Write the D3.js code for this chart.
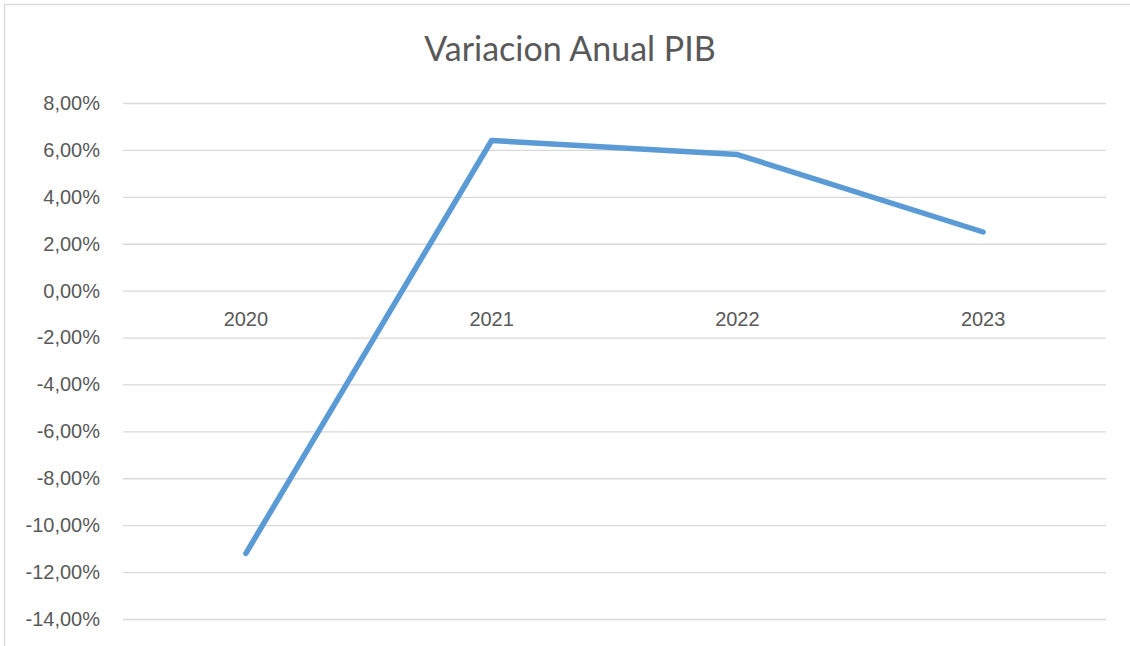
<!DOCTYPE html>
<html>
<head>
<meta charset="utf-8">
<script src="https://cdn.jsdelivr.net/npm/d3@7"></script>
<style>
  body { margin: 0; background: #fff; }
  svg { display: block; font-family: Lato, "Open Sans", sans-serif; }
</style>
</head>
<body>
<svg id="chart"></svg>
<script>
// Data
const years = ['2020', '2021', '2022', '2023'];
const pib = [-11.2, 6.4, 5.8, 2.5];
const yTicks = [8, 6, 4, 2, 0, -2, -4, -6, -8, -10, -12, -14];

const width = 1130, height = 646;
const margin = { top: 103, right: 24, bottom: 27, left: 123 };

const svg = d3.select('#chart')
    .attr('width', width)
    .attr('height', height);

// chart border
svg.append('rect')
    .attr('x', 4.5).attr('y', 4.5)
    .attr('width', width).attr('height', height)
    .attr('fill', 'none')
    .attr('stroke', '#d9d9d9')
    .attr('stroke-width', 1.3);

const x = d3.scaleBand()
    .domain(years)
    .range([margin.left, width - margin.right]);

const y = d3.scaleLinear()
    .domain([-14, 8])
    .range([height - margin.bottom, margin.top]);

const fmt = v => d3.format('.2f')(v).replace('.', ',').replace('−', '-') + '%';

// gridlines + y labels
const yAxis = svg.append('g')
    .attr('transform', 'translate(' + margin.left + ',0)')
    .call(d3.axisLeft(y).tickValues(yTicks).tickFormat(fmt)
        .tickSize(-(width - margin.right - margin.left)).tickPadding(23));
yAxis.select('.domain').remove();
yAxis.selectAll('line').attr('stroke', '#d9d9d9').attr('stroke-width', 1.3);
yAxis.selectAll('text')
    .attr('fill', '#595959')
    .style('font-size', '20px');

// category labels sit just under the 0 line
const xAxis = svg.append('g')
    .attr('transform', 'translate(0,' + y(0) + ')')
    .call(d3.axisBottom(x).tickSize(0).tickPadding(21));
xAxis.select('.domain').remove();
xAxis.selectAll('text')
    .attr('fill', '#595959')
    .style('font-size', '20px');

// line
const line = d3.line()
    .x((d, i) => x(years[i]) + x.bandwidth() / 2)
    .y(d => y(d));

svg.append('path')
    .datum(pib)
    .attr('fill', 'none')
    .attr('stroke', '#5b9bd5')
    .attr('stroke-width', 5.5)
    .attr('stroke-linecap', 'round')
    .attr('stroke-linejoin', 'round')
    .attr('d', line);

// title
svg.append('text')
    .attr('x', 570)
    .attr('y', 61)
    .attr('text-anchor', 'middle')
    .attr('fill', '#595959')
    .style('font-size', '34px')
    .text('Variacion Anual PIB');
</script>
</body>
</html>
